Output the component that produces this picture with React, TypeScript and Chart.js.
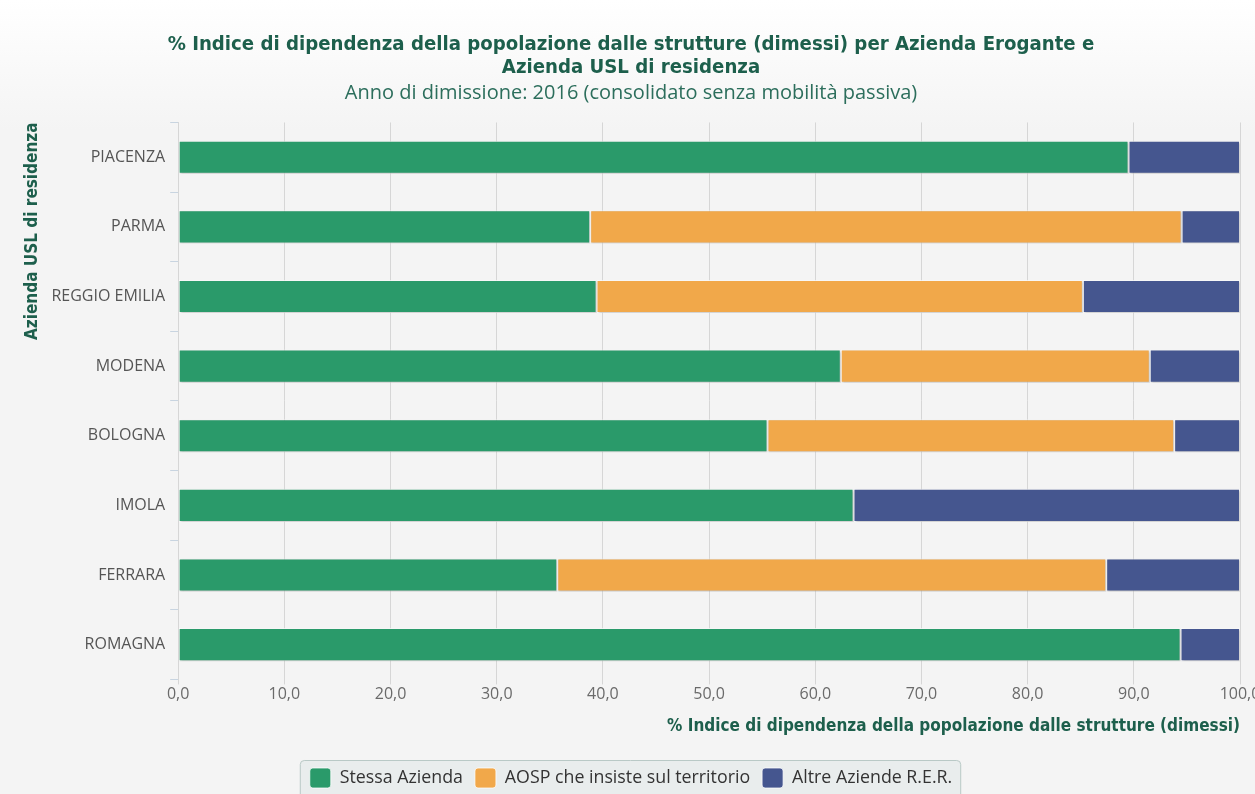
import React, { useEffect, useRef } from "react";
import { Chart, registerables } from "chart.js";

Chart.register(...registerables);

const categories = ["PIACENZA", "PARMA", "REGGIO EMILIA", "MODENA", "BOLOGNA", "IMOLA", "FERRARA", "ROMAGNA"];
const stessaAzienda = [89.5, 38.8, 39.4, 62.4, 55.5, 63.6, 35.7, 94.4];
const aosp = [0, 55.7, 45.8, 29.1, 38.3, 0, 51.7, 0];
const altreAziende = [10.5, 5.5, 14.8, 8.5, 6.2, 36.4, 12.6, 5.6];
const xTicks = [0, 10, 20, 30, 40, 50, 60, 70, 80, 90, 100];

const titleLines = [
  "% Indice di dipendenza della popolazione dalle strutture (dimessi) per Azienda Erogante e",
  "Azienda USL di residenza",
];
const subtitleText = "Anno di dimissione: 2016 (consolidato senza mobilità passiva)";
const xTitle = "% Indice di dipendenza della popolazione dalle strutture (dimessi)";
const yTitle = "Azienda USL di residenza";

const TEAL = "#1d5f4c";
const CONDENSED = "'Liberation Sans Narrow', 'DejaVu Sans Condensed', 'Roboto Condensed', sans-serif";
const OPEN = "'Open Sans', sans-serif";

const bgPlugin = {
  id: "bgPlugin",
  beforeDraw(chart: any) {
    const { ctx, width, height } = chart;
    ctx.save();
    const g = ctx.createLinearGradient(0, 0, 0, 130);
    g.addColorStop(0, "#ffffff");
    g.addColorStop(1, "#f4f4f4");
    ctx.fillStyle = g;
    ctx.fillRect(0, 0, width, height);
    ctx.restore();
  },
};

const shadowPlugin = {
  id: "shadowPlugin",
  beforeDatasetsDraw(chart: any) {
    const ctx = chart.ctx;
    ctx.save();
    ctx.shadowColor = "rgba(0,0,0,0.22)";
    ctx.shadowBlur = 2;
    ctx.shadowOffsetX = 1;
    ctx.shadowOffsetY = 1;
  },
  afterDatasetsDraw(chart: any) {
    chart.ctx.restore();
  },
};

const legendBoxPlugin = {
  id: "legendBoxPlugin",
  beforeDraw(chart: any) {
    const lg = chart.legend;
    if (!lg || !lg.legendHitBoxes || !lg.legendHitBoxes.length) return;
    const boxes = lg.legendHitBoxes;
    const left = boxes[0].left - 10;
    const last = boxes[boxes.length - 1];
    const right = last.left + last.width + 8;
    const top = boxes[0].top - 8;
    const bottom = boxes[0].top + boxes[0].height + 14;
    const ctx = chart.ctx;
    ctx.save();
    ctx.fillStyle = "#e9eded";
    ctx.strokeStyle = "#b9c9c6";
    ctx.lineWidth = 1;
    ctx.beginPath();
    ctx.roundRect(left + 0.5, top + 0.5, right - left, bottom - top, 4);
    ctx.fill();
    ctx.stroke();
    ctx.restore();
  },
};

export default function App() {
  const ref = useRef<HTMLCanvasElement | null>(null);

  useEffect(() => {
    if (!ref.current) return;
    const chart = new Chart(ref.current, {
      type: "bar",
      data: {
        labels: categories,
        datasets: [
          { label: "Stessa Azienda", data: stessaAzienda, backgroundColor: "#2a9a6a" },
          { label: "AOSP che insiste sul territorio", data: aosp, backgroundColor: "#f1a84a" },
          { label: "Altre Aziende R.E.R.", data: altreAziende, backgroundColor: "#45568f" },
        ].map((d) => ({
          ...d,
          borderColor: "rgba(255,255,255,0.75)",
          borderWidth: 1,
          borderSkipped: false,
          categoryPercentage: 1,
          barPercentage: 0.475,
        })),
      },
      options: {
        indexAxis: "y",
        responsive: false,
        animation: false,
        layout: { padding: { left: 22, right: 40, top: 0, bottom: 0 } },
        scales: {
          x: {
            stacked: true,
            min: 0,
            max: 100,
            afterBuildTicks(axis: any) {
              axis.ticks = xTicks.map((v) => ({ value: v }));
            },
            ticks: {
              color: "#6a6a6a",
              font: { family: OPEN, size: 16 },
              padding: 0,
              maxRotation: 0,
              callback: (v: any) => Number(v).toFixed(1).replace(".", ","),
            },
            grid: { color: "#d6d6d6", tickLength: 5, drawTicks: true },
            border: { display: false },
            title: {
              display: true,
              text: xTitle,
              align: "end",
              color: TEAL,
              font: { family: CONDENSED, size: 17, weight: "bold" },
              padding: { top: 13, bottom: 19 },
            },
          },
          y: {
            stacked: true,
            ticks: {
              color: "#555",
              font: { family: OPEN, size: 16 },
              padding: 5,
            },
            grid: { drawOnChartArea: false, color: "#c8d4e0", tickLength: 8, offset: true },
            border: { display: true, color: "#d6d6d6" },
            title: {
              display: true,
              text: yTitle,
              align: "end",
              color: TEAL,
              font: { family: CONDENSED, size: 17, weight: "bold" },
              padding: { top: 0, bottom: 4 },
            },
          },
        },
        plugins: {
          title: {
            display: true,
            text: titleLines,
            color: TEAL,
            font: { family: CONDENSED, size: 20.2, weight: "bold", lineHeight: 1.15 },
            padding: { top: 33, bottom: 2 },
          },
          subtitle: {
            display: true,
            text: subtitleText,
            color: "#2c6e5c",
            font: { family: OPEN, size: 20, lineHeight: 1.2 },
            padding: { top: 0, bottom: 17 },
          },
          legend: {
            position: "bottom",
            labels: {
              color: "#333",
              font: { family: OPEN, size: 17.8 },
              boxWidth: 21,
              boxHeight: 20,
              useBorderRadius: true,
              borderRadius: 3,
              padding: 12,
            },
          },
          tooltip: { enabled: false },
        },
      },
      plugins: [bgPlugin, shadowPlugin, legendBoxPlugin],
    } as any);
    return () => chart.destroy();
  }, []);

  return (
    <div style={{ position: "fixed", left: 0, top: 0, width: 1255, height: 794, overflow: "hidden", background: "#f4f4f4" }}>
      <canvas ref={ref} width={1280} height={798} style={{ display: "block" }} />
    </div>
  );
}
